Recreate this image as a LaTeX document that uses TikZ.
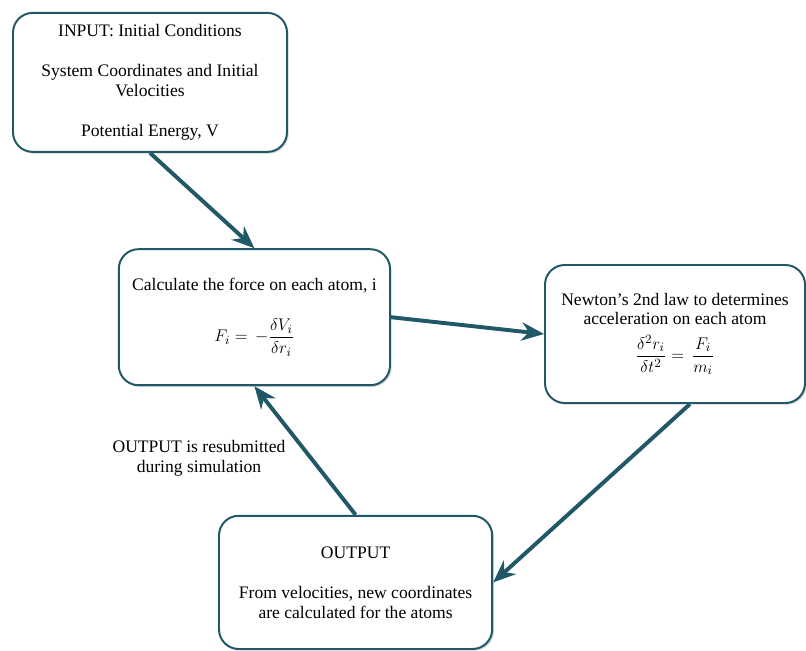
\documentclass[tikz,border=0pt]{standalone}
\usepackage{amsmath}
\usepackage{fontspec}
\setmainfont{Liberation Serif}
\usepackage{xcolor}
\usetikzlibrary{arrows.meta,shadows}
\definecolor{tealdark}{HTML}{215868}

\begin{document}
\begin{tikzpicture}[
    box/.style={draw=tealdark,line width=1.4pt,rounded corners=14pt,fill=white,align=center,
        font=\fontsize{12.5}{13.8}\selectfont,inner sep=2pt,
        drop shadow={shadow xshift=1.2pt,shadow yshift=-1.2pt,opacity=0.35}},
    link/.style={draw=tealdark,line width=2.8pt,-{Stealth[length=16pt,width=13pt]}}
]
    \useasboundingbox (0,0) rectangle (20.15,-16.25);

    \node[box,minimum width=6.85cm,minimum height=3.475cm] (input) at (3.75,-2.06)
        {INPUT: Initial Conditions\\[15pt]
         System Coordinates and Initial\\ Velocities\\[15pt]
         Potential Energy, V};
    \node[box,minimum width=6.78cm,minimum height=3.4cm] (force) at (6.36,-7.93)
        {Calculate the force on each atom, i\\[17pt]
         $F_i = \,-\dfrac{\delta V_i}{\delta r_i}$};
    \node[box,minimum width=6.5cm,minimum height=3.45cm] (newton) at (16.875,-8.35)
        {Newton’s 2nd law to determines\\ acceleration on each atom\\[6pt]
         $\dfrac{\delta^2 r_i}{\delta t^2} = \,\dfrac{F_i}{m_i}$};
    \node[box,minimum width=6.83cm,minimum height=3.33cm] (output) at (8.89,-14.56)
        {OUTPUT\\[15pt]
         From velocities, new coordinates\\ are calculated for the atoms};
    \node[align=center,font=\fontsize{12.5}{14.2}\selectfont] (resub) at (4.975,-11.45)
        {OUTPUT is resubmitted\\ during simulation};

    \draw[link] (input.south) -- (force.north);
    \draw[link] (force.east) -- (newton.west);
    \draw[link] ([xshift=0.375cm]newton.south) -- (output.east);
    \draw[link] (output.north) -- (force.south);
\end{tikzpicture}
\end{document}
